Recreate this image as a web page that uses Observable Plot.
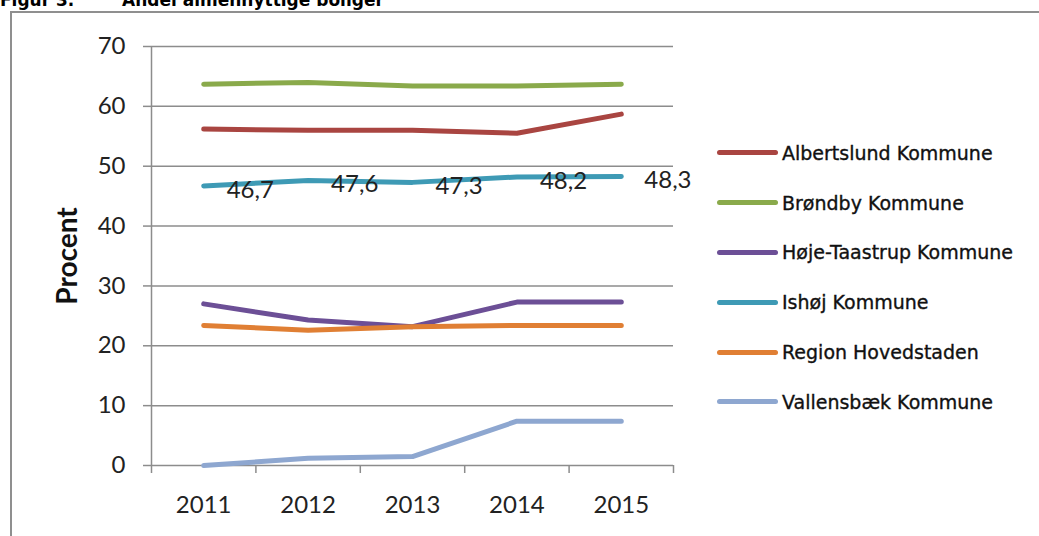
<!DOCTYPE html>
<html>
<head>
<meta charset="utf-8">
<script src="https://cdn.jsdelivr.net/npm/d3@7"></script>
<script src="https://cdn.jsdelivr.net/npm/@observablehq/plot@0.6"></script>
<style>
  html, body { margin: 0; padding: 0; background: #fff; width: 1039px; height: 536px; overflow: hidden; position: relative; }
  .title { position: absolute; top: -8px; font-family: "DejaVu Sans", Verdana, sans-serif; font-weight: bold; font-size: 17px; line-height: 1; white-space: pre; color: #000; }
  #frame { position: absolute; left: 10px; top: 11px; width: 1100px; height: 600px; border: 2px solid #8f8f8f; box-sizing: border-box; }
  #chart { position: absolute; left: 0; top: 0; }
  #legend { position: absolute; left: 717px; top: 128px; font-family: "DejaVu Sans", Verdana, sans-serif; font-size: 19px; color: #111; -webkit-text-stroke: 0.35px #111; }
  .row { display: flex; align-items: center; height: 49.8px; }
  .sw { width: 61px; height: 5px; border-radius: 3px; margin-right: 4px; }
</style>
</head>
<body>
<div class="title" style="left:0px">Figur 3.</div>
<div class="title" style="left:122px">Andel almennyttige boliger</div>
<div id="frame"></div>
<div id="chart"></div>
<div id="legend"></div>
<script>
const years = [2011, 2012, 2013, 2014, 2015];
const seriesNames = ["Albertslund Kommune", "Brøndby Kommune", "Høje-Taastrup Kommune", "Ishøj Kommune", "Region Hovedstaden", "Vallensbæk Kommune"];
const seriesColors = ["#A94541", "#8AAA4B", "#6C4F96", "#3E9AB5", "#E07F34", "#8EA7D0"];
const albertslund = [56.2, 56.0, 56.0, 55.5, 58.7];
const brondby = [63.7, 64.0, 63.4, 63.4, 63.7];
const hojeTaastrup = [27.0, 24.3, 23.2, 27.3, 27.3];
const ishoj = [46.7, 47.6, 47.3, 48.2, 48.3];
const regionH = [23.4, 22.6, 23.2, 23.4, 23.4];
const vallensbaek = [0.0, 1.2, 1.5, 7.4, 7.4];
const yTicks = [0, 10, 20, 30, 40, 50, 60, 70];
const yLabel = "Procent";

const seriesValues = [albertslund, brondby, hojeTaastrup, ishoj, regionH, vallensbaek];
const data = [];
seriesNames.forEach((name, i) => {
  years.forEach((yr, j) => data.push({series: name, year: yr, value: seriesValues[i][j]}));
});
const ishojData = years.map((yr, j) => ({year: yr, value: ishoj[j]}));
const boundaries = [years[0] - 0.5, ...years.map(y => y + 0.5)];
const fmt = v => v.toFixed(1).replace(".", ",");

const font = "Lato, 'Open Sans', sans-serif";
const plot = Plot.plot({
  width: 700,
  height: 536,
  marginLeft: 151,
  marginRight: 27,
  marginTop: 46,
  marginBottom: 71,
  style: {fontFamily: font, background: "transparent"},
  x: {domain: [boundaries[0], boundaries[boundaries.length - 1]]},
  y: {domain: [0, 70]},
  color: {domain: seriesNames, range: seriesColors},
  marks: [
    Plot.ruleY(yTicks, {stroke: "#8c8c8c", strokeWidth: 1.5}),
    Plot.ruleX([boundaries[0]], {y1: 0, y2: 70, stroke: "#8c8c8c", strokeWidth: 1.5}),
    Plot.axisY({ticks: yTicks, tickSize: 8, tickPadding: 18, fontSize: 24, stroke: "#8c8c8c", strokeWidth: 1.5, color: "#222", label: null, tickFormat: d => d}),
    Plot.axisX({ticks: boundaries, tickSize: 8, tickFormat: () => "", stroke: "#8c8c8c", strokeWidth: 1.5, label: null}),
    Plot.axisX({ticks: years, tickSize: 0, tickPadding: 30, fontSize: 24, color: "#222", tickFormat: d => String(d), label: null}),
    Plot.text([yLabel], {frameAnchor: "left", dx: -83, rotate: -90, textAnchor: "middle", fontSize: 28, fontWeight: "bold", fill: "#111"}),
    Plot.line(data, {x: "year", y: "value", z: "series", stroke: "series", strokeWidth: 5, strokeLinecap: "round", strokeLinejoin: "round"}),
    Plot.text(ishojData, {x: "year", y: "value", text: d => fmt(d.value), textAnchor: "start", dx: 23, dy: 4, fontSize: 24, fill: "#222"})
  ]
});
document.getElementById("chart").appendChild(plot);

const legend = document.getElementById("legend");
seriesNames.forEach((name, i) => {
  const row = document.createElement("div");
  row.className = "row";
  const sw = document.createElement("div");
  sw.className = "sw";
  sw.style.background = seriesColors[i];
  const t = document.createElement("span");
  t.textContent = name;
  row.appendChild(sw);
  row.appendChild(t);
  legend.appendChild(row);
});
</script>
</body>
</html>
